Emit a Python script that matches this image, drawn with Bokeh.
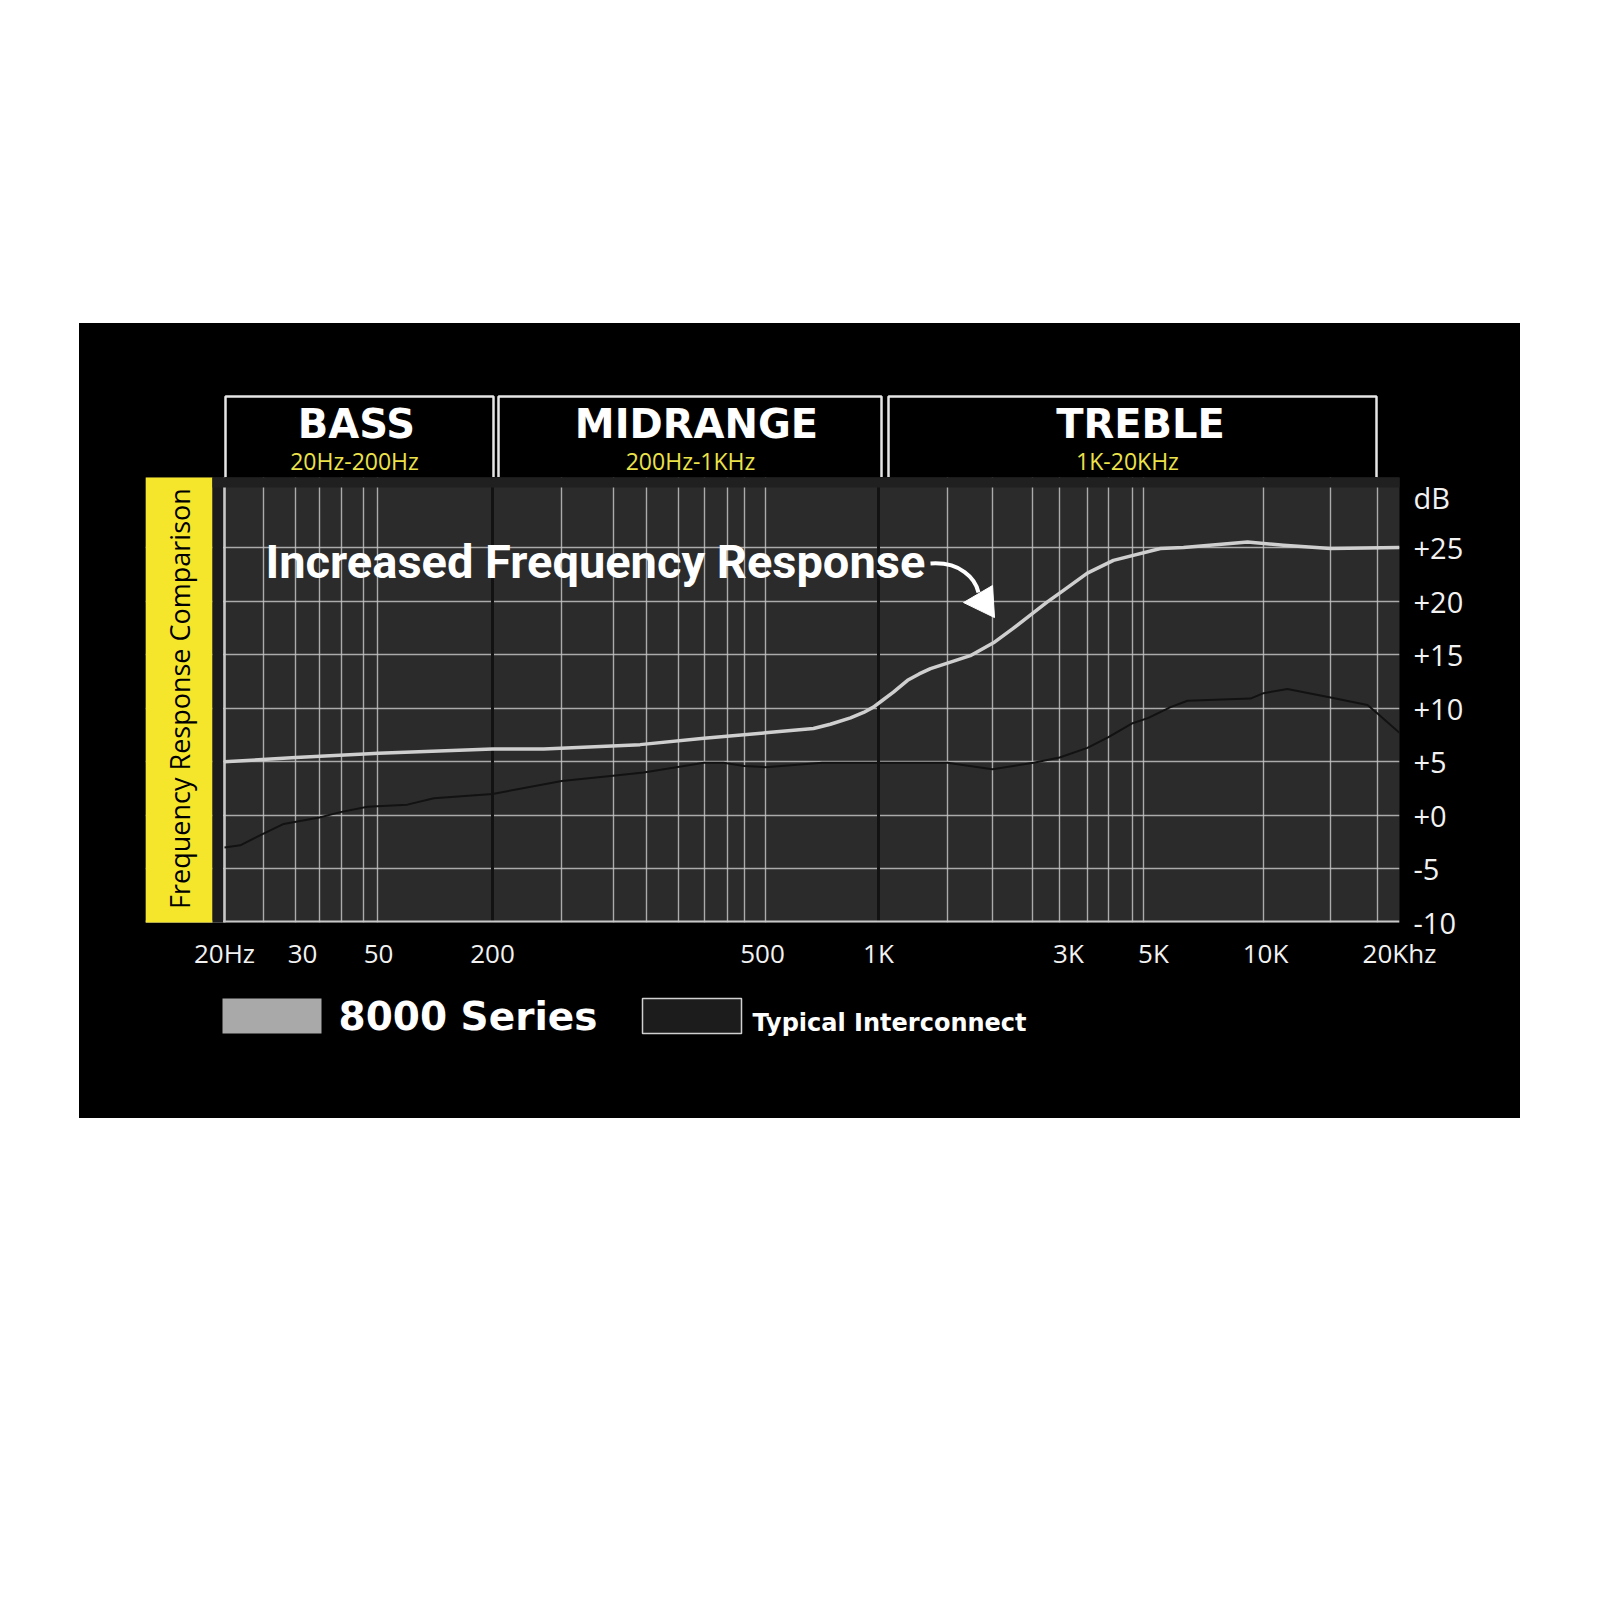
import numpy as np
from bokeh.plotting import figure
from bokeh.models import (Range1d, FixedTicker, Span, BoxAnnotation, Label,
                          PolyAnnotation, Spacer)
from bokeh.layouts import column, row
from bokeh.embed import file_html
from bokeh.resources import INLINE

# ---------------- printed (warped) frequency axis ----------------
AXIS_FREQ = [20, 30, 50, 200, 500, 1000, 3000, 5000, 10000, 20000]
AXIS_LABELS = ["20Hz", "30", "50", "200", "500", "1K", "3K", "5K", "10K", "20Khz"]
AXIS_POS = [0, 78, 154, 268, 538, 654, 844, 929, 1041, 1175]

DB_TICKS = [-10, -5, 0, 5, 10, 15, 20, 25]
DB_LABELS = ["-10", "-5", "+0", "+5", "+10", "+15", "+20", "+25"]
DB_UNIT_POS = 31.3

# vertical grid lines of the printed chart (axis units)
GRID_POS = [0, 39, 71, 95, 117, 139, 153, 337, 389, 422, 454, 480, 503, 520, 541,
            723, 768, 808, 835, 863, 884, 908, 919, 1039, 1106, 1153]
BAND_SPLIT_FREQ = [200, 1000]

# ---------------- data ----------------
series8000_freq = [20, 29, 50, 200, 238, 330, 410, 509, 678, 750, 846, 915, 970, 1012,
                   1090, 1183, 1265, 1351, 1490, 1700, 1944, 2170, 2410, 2650, 2915, 3360,
                   3930, 5220, 6020, 8950, 10980, 14000, 20000]
series8000_db = [5.0, 5.4, 5.8, 6.2, 6.2, 6.6, 7.2, 7.7, 8.1, 8.5, 9.1, 9.6, 10.1, 10.6,
                 11.5, 12.6, 13.2, 13.7, 14.2, 14.9, 16.1, 17.4, 18.7, 19.9, 21.0, 22.6,
                 23.8, 24.9, 25.0, 25.5, 25.2, 24.9, 25.0]

typical_freq = [20, 21.7, 24.5, 27.2, 33.6, 38.7, 46.4, 71, 98, 200, 253, 301, 334, 410,
                438, 470, 509, 715, 1000, 1490, 1933, 2450, 2850, 3360, 3815, 4410, 4850,
                5555, 6170, 9110, 9880, 11200, 14000, 16950, 17850, 20000]
typical_db = [-3.0, -2.8, -1.7, -0.8, -0.2, 0.3, 0.8, 1.0, 1.6, 2.0, 3.2, 3.7, 4.0, 4.9,
              4.9, 4.6, 4.5, 4.9, 4.9, 4.9, 4.3, 4.9, 5.4, 6.3, 7.3, 8.6, 9.1,
              10.1, 10.7, 10.9, 11.4, 11.8, 11.0, 10.3, 9.5, 7.7]

BANDS = ["BASS", "MIDRANGE", "TREBLE"]
BAND_RANGES = ["20Hz-200Hz", "200Hz-1KHz", "1K-20KHz"]
LEGEND = ["8000 Series", "Typical Interconnect"]
SIDE_TITLE = "Frequency Response Comparison"
HEADLINE = "Increased Frequency Response"


def fpos(f):
    return np.interp(np.log10(np.asarray(f, dtype=float)), np.log10(AXIS_FREQ), AXIS_POS)


BLACK = {"background-color": "black"}
xr = Range1d(-79, 1175)
common = dict(width=1441, x_range=xr, output_backend="svg", toolbar_location=None,
              title=None, min_border_left=66, min_border_right=121,
              border_fill_color="black", outline_line_color=None, styles=BLACK)


def box(**kw):
    d = dict(fill_alpha=1, line_alpha=0)
    d.update(kw)
    if "line_color" in kw:
        d["line_alpha"] = 1
    return BoxAnnotation(**d)


# ================= top strip with the band headers =================
top = figure(height=154, y_range=Range1d(0, 154), x_axis_location=None, y_axis_location=None,
             min_border_top=0, min_border_bottom=0, background_fill_color="black", **common)
top.grid.visible = False
band_left = [1, 274, 664]
band_right = [269, 657, 1152]
band_center = [132, 472, 916]
sub_center = [130, 466, 903]
for i in range(3):
    top.add_layout(box(left=band_left[i], right=band_right[i], bottom=-6, top=81,
                       fill_color="black", line_color="#e6e6e6", line_width=2.5))
    top.add_layout(Label(x=band_center[i], y=54, text=BANDS[i], text_align="center",
                         text_baseline="alphabetic", text_font="DejaVu Sans",
                         text_font_style="bold", text_font_size="40px", text_color="white"))
    top.add_layout(Label(x=sub_center[i], y=17, text=BAND_RANGES[i], text_align="center",
                         text_baseline="alphabetic", text_font="Open Sans",
                         text_font_size="23px", text_color="#ece24a"))

# ================= main chart =================
p = figure(height=503, y_range=Range1d(-10, 31.53), y_axis_location="right",
           min_border_top=0, min_border_bottom=58, background_fill_color="#2b2b2b", **common)

xa = p.xaxis[0]
xa.ticker = FixedTicker(ticks=AXIS_POS)
xa.major_label_overrides = {pos: lab for pos, lab in zip(AXIS_POS, AXIS_LABELS)}
ya = p.yaxis[0]
ya.ticker = FixedTicker(ticks=DB_TICKS + [DB_UNIT_POS])
overrides = {t: lab for t, lab in zip(DB_TICKS, DB_LABELS)}
overrides[DB_UNIT_POS] = "dB"
ya.major_label_overrides = overrides
for ax in (xa, ya):
    ax.axis_line_color = None
    ax.major_tick_line_color = None
    ax.minor_tick_line_color = None
    ax.major_tick_out = 0
    ax.major_tick_in = 0
    ax.major_label_text_font = "Open Sans"
    ax.major_label_text_color = "#f2f2f2"
xa.major_label_text_font_size = "26px"
xa.major_label_standoff = 12
ya.major_label_text_font_size = "29px"
ya.major_label_standoff = 14

p.xgrid.ticker = FixedTicker(ticks=GRID_POS)
p.ygrid.ticker = FixedTicker(ticks=DB_TICKS)
for g in (p.xgrid, p.ygrid):
    g.grid_line_color = "#c2c2c2"
    g.grid_line_width = 1.4
    g.grid_line_alpha = 0.85

for f in BAND_SPLIT_FREQ:
    p.add_layout(Span(location=float(fpos(f)), dimension="height", line_color="#121212",
                      line_width=3, level="underlay"))
p.add_layout(Span(location=0, dimension="height", line_color="#c8c8c8", line_width=2.5,
                  level="underlay"))
p.add_layout(Span(location=-10, dimension="width", line_color="#c8c8c8", line_width=4,
                  level="underlay"))

# data lines
p.line(fpos(typical_freq), typical_db, line_color="#121212", line_width=2,
       line_join="round")
p.line(fpos(series8000_freq), series8000_db, line_color="#cfcfcf", line_width=3.5,
       line_join="round")

# left decorations
p.add_layout(box(left=-79, right=-12, bottom=-11, top=32, fill_color="#f6e62b"))
p.add_layout(box(left=-12, right=-1.5, bottom=-11, top=32, fill_color="#1c1c1c"))
p.add_layout(box(left=-12, right=1176, bottom=30.6, top=32, fill_color="#202020"))
p.add_layout(Label(x=-45, y=10.9, text=SIDE_TITLE, angle=np.pi / 2,
                   text_align="center", text_baseline="middle", text_font="Open Sans",
                   text_font_size="27px", text_color="black"))

# headline + arrow
p.add_layout(Label(x=41, y=23.7, text=HEADLINE, text_font="Roboto",
                   text_font_style="bold", text_font_size="47px", text_color="white",
                   text_baseline="alphabetic"))
p.bezier(x0=[706], y0=[23.5], x1=[754], y1=[20.8], cx0=[736], cy0=[23.69],
         cx1=[751], cy1=[22.1], line_color="white", line_width=4)
p.add_layout(PolyAnnotation(xs=[739, 768, 770], ys=[19.86, 21.45, 18.46],
                            fill_color="white", fill_alpha=1, line_color="white",
                            line_alpha=1, line_width=1))

# ================= legend strip =================
leg = figure(height=138, y_range=Range1d(0, 138), x_axis_location=None, y_axis_location=None,
             min_border_top=0, min_border_bottom=0, background_fill_color="black", **common)
leg.grid.visible = False
leg.add_layout(box(left=-2, right=97, bottom=85, top=120, fill_color="#a9a9a9"))
leg.add_layout(box(left=418, right=517, bottom=85, top=120, fill_color="#1c1c1c",
                   line_color="#d0d0d0", line_width=1.5))
leg.add_layout(Label(x=114, y=102, text=LEGEND[0], text_baseline="alphabetic",
                     text_font="DejaVu Sans", text_font_style="bold", text_font_size="39px",
                     text_color="white"))
leg.add_layout(Label(x=528, y=96, text=LEGEND[1], text_baseline="alphabetic",
                     text_font="DejaVu Sans", text_font_style="bold", text_font_size="24px",
                     text_color="white"))

layout = column(Spacer(width=1520, height=323),
                row(Spacer(width=79, height=795),
                    column(top, p, leg, styles=BLACK)))

open("out.html", "w").write(file_html(layout, INLINE))
